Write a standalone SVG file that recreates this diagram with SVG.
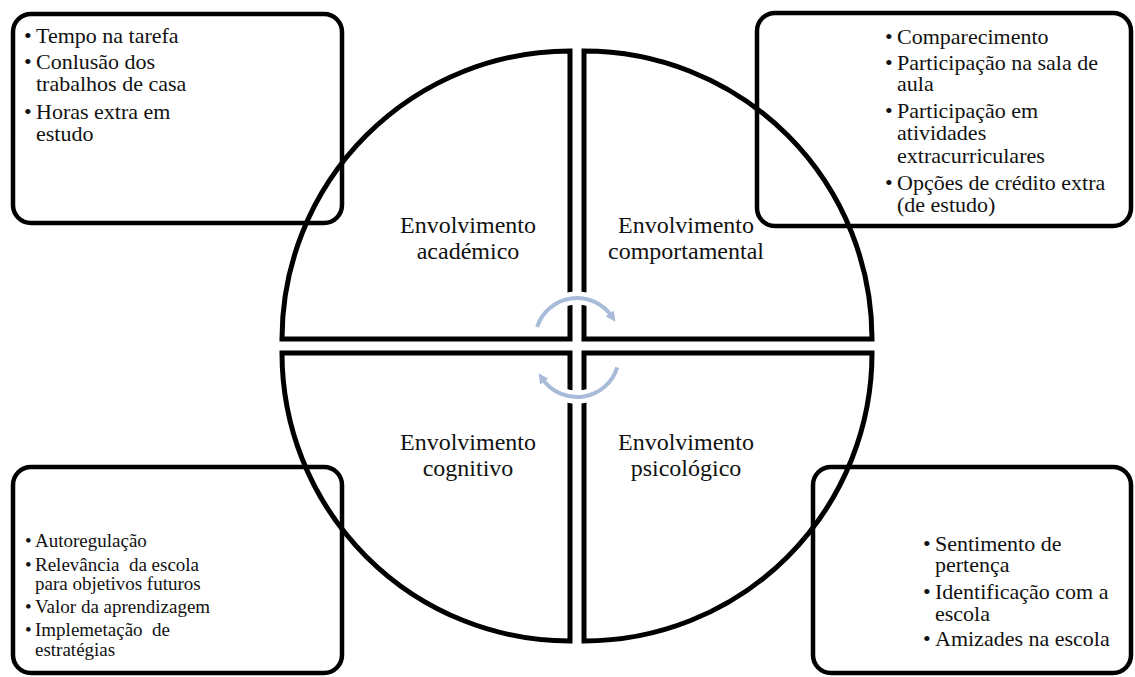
<svg xmlns="http://www.w3.org/2000/svg" width="1135" height="677" viewBox="0 0 1135 677">
<style>
.q{fill:none;stroke:#000;stroke-width:5;stroke-linejoin:miter}
.box{fill:none;stroke:#000;stroke-width:4.5}
.t{fill:#111;white-space:pre}
.lab{font-size:24px;text-anchor:middle}
.b22{font-size:22px}
.b19{font-size:19px}
.halo{fill:none;stroke:#fff;stroke-width:13}
.arr{fill:none;stroke:#a8bbd8;stroke-width:4}
</style>
<defs>
<marker id="ah" viewBox="0 0 10 10" refX="3" refY="5" markerWidth="10" markerHeight="10" markerUnits="userSpaceOnUse" orient="auto">
<path d="M0,0 L10,5 L0,10 z" fill="#a8bbd8"/>
</marker>
</defs>
<rect width="1135" height="677" fill="#fff"/>
<g font-family="'Liberation Serif', 'DejaVu Serif', serif">
<g id="quadrant-academico">
<path class="q" d="M570,339 L282,339 A288,288 0 0 1 570,51 Z"/>
<text class="t lab" x="468" y="233">Envolvimento</text>
<text class="t lab" x="468" y="259">académico</text>
</g>
<g id="quadrant-comportamental">
<path class="q" d="M584,339 L584,51 A288,288 0 0 1 872,339 Z"/>
<text class="t lab" x="686" y="233">Envolvimento</text>
<text class="t lab" x="686" y="259">comportamental</text>
</g>
<g id="quadrant-cognitivo">
<path class="q" d="M570,353 L570,641 A288,288 0 0 1 282,353 Z"/>
<text class="t lab" x="468" y="450">Envolvimento</text>
<text class="t lab" x="468" y="476">cognitivo</text>
</g>
<g id="quadrant-psicologico">
<path class="q" d="M584,353 L872,353 A288,288 0 0 1 584,641 Z"/>
<text class="t lab" x="686" y="450">Envolvimento</text>
<text class="t lab" x="686" y="476">psicológico</text>
</g>
<g id="connectors">
<path class="halo" d="M537.1,327 A42,42 0 0 1 611.4,315.9"/>
<path class="halo" d="M617.2,367.3 A42,42 0 0 1 542.6,379.1"/>
<path class="arr" d="M537.1,327 A42,42 0 0 1 611.4,315.9" marker-end="url(#ah)"/>
<path class="arr" d="M617.2,367.3 A42,42 0 0 1 542.6,379.1" marker-end="url(#ah)"/>
</g>
<g id="box-academico">
<rect class="box" x="13" y="14" width="329" height="209" rx="18"/>
<text class="t b22" y="43"><tspan x="24">•</tspan><tspan x="36">Tempo na tarefa</tspan></text>
<text class="t b22" y="69"><tspan x="24">•</tspan><tspan x="36">Conlusão dos</tspan></text>
<text class="t b22" x="36" y="91">trabalhos de casa</text>
<text class="t b22" y="119"><tspan x="24">•</tspan><tspan x="36">Horas extra em</tspan></text>
<text class="t b22" x="36" y="141">estudo</text>
</g>
<g id="box-comportamental">
<rect class="box" x="757" y="13" width="374" height="213" rx="18"/>
<text class="t b22" y="44"><tspan x="885">•</tspan><tspan x="897">Comparecimento</tspan></text>
<text class="t b22" y="70"><tspan x="885">•</tspan><tspan x="897">Participação na sala de</tspan></text>
<text class="t b22" x="897" y="91">aula</text>
<text class="t b22" y="118"><tspan x="885">•</tspan><tspan x="897">Participação em</tspan></text>
<text class="t b22" x="897" y="140">atividades</text>
<text class="t b22" x="897" y="163">extracurriculares</text>
<text class="t b22" y="190"><tspan x="885">•</tspan><tspan x="897">Opções de crédito extra</tspan></text>
<text class="t b22" x="897" y="212">(de estudo)</text>
</g>
<g id="box-cognitivo">
<rect class="box" x="13" y="467" width="329" height="206" rx="18"/>
<text class="t b19" y="547"><tspan x="25">•</tspan><tspan x="35">Autoregulação</tspan></text>
<text class="t b19" y="571"><tspan x="25">•</tspan><tspan x="35">Relevância  da escola</tspan></text>
<text class="t b19" x="35" y="590">para objetivos futuros</text>
<text class="t b19" y="613"><tspan x="25">•</tspan><tspan x="35">Valor da aprendizagem</tspan></text>
<text class="t b19" y="636"><tspan x="25">•</tspan><tspan x="35">Implemetação  de</tspan></text>
<text class="t b19" x="35" y="656">estratégias</text>
</g>
<g id="box-psicologico">
<rect class="box" x="813" y="467" width="318" height="206" rx="18"/>
<text class="t b22" y="551"><tspan x="923">•</tspan><tspan x="935">Sentimento de</tspan></text>
<text class="t b22" x="935" y="572">pertença</text>
<text class="t b22" y="599"><tspan x="923">•</tspan><tspan x="935">Identificação com a</tspan></text>
<text class="t b22" x="935" y="621">escola</text>
<text class="t b22" y="646"><tspan x="923">•</tspan><tspan x="935">Amizades na escola</tspan></text>
</g>
</g>
</svg>
